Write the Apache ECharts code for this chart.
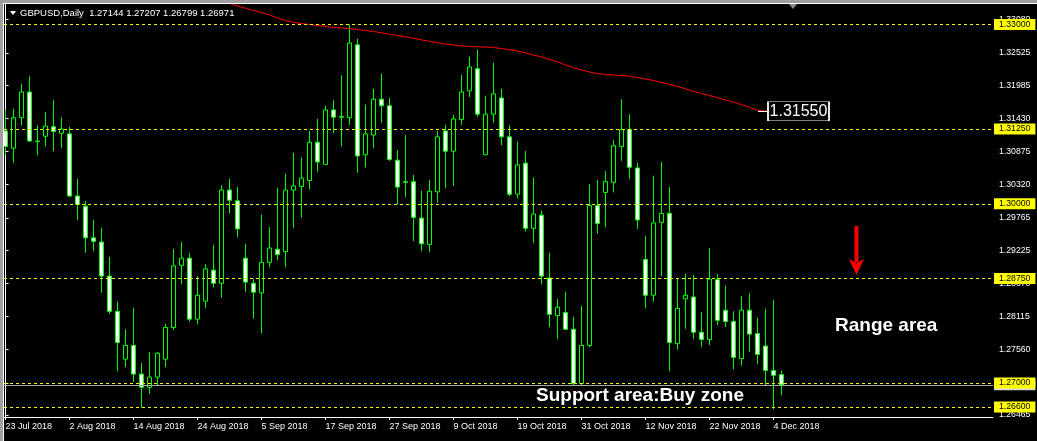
<!DOCTYPE html>
<html><head><meta charset="utf-8">
<script src="https://cdn.jsdelivr.net/npm/echarts@6/dist/echarts.min.js"></script>
<style>html,body{margin:0;padding:0;background:#000;overflow:hidden}#c{width:1037px;height:441px;}</style>
</head><body><div id="c"></div>
<script>
const dates = [
'2018-07-23','2018-07-24','2018-07-25','2018-07-26','2018-07-27','2018-07-30','2018-07-31',
'2018-08-01','2018-08-02','2018-08-03','2018-08-06','2018-08-07','2018-08-08','2018-08-09','2018-08-10',
'2018-08-13','2018-08-14','2018-08-15','2018-08-16','2018-08-17','2018-08-20','2018-08-21','2018-08-22',
'2018-08-23','2018-08-24','2018-08-27','2018-08-28','2018-08-29','2018-08-30','2018-08-31',
'2018-09-03','2018-09-04','2018-09-05','2018-09-06','2018-09-07','2018-09-10','2018-09-11','2018-09-12',
'2018-09-13','2018-09-14','2018-09-17','2018-09-18','2018-09-19','2018-09-20','2018-09-21','2018-09-24',
'2018-09-25','2018-09-26','2018-09-27','2018-09-28',
'2018-10-01','2018-10-02','2018-10-03','2018-10-04','2018-10-05','2018-10-08','2018-10-09','2018-10-10',
'2018-10-11','2018-10-12','2018-10-15','2018-10-16','2018-10-17','2018-10-18','2018-10-19','2018-10-22',
'2018-10-23','2018-10-24','2018-10-25','2018-10-26','2018-10-29','2018-10-30','2018-10-31',
'2018-11-01','2018-11-02','2018-11-05','2018-11-06','2018-11-07','2018-11-08','2018-11-09','2018-11-12',
'2018-11-13','2018-11-14','2018-11-15','2018-11-16','2018-11-19','2018-11-20','2018-11-21','2018-11-22',
'2018-11-23','2018-11-26','2018-11-27','2018-11-28','2018-11-29','2018-11-30',
'2018-12-03','2018-12-04','2018-12-05'];

const open = [1.3122,1.3093,1.3144,1.3187,1.3105,1.3113,1.3129,1.3118,1.3117,1.3013,
1.2996,1.2943,1.2936,1.2879,1.2820,1.2740,1.2763,1.2715,1.2693,1.2710,
1.2740,1.2793,1.2897,1.2909,1.2807,1.2837,1.2889,1.2867,1.3023,1.3005,
1.2909,1.2867,1.2851,1.2902,1.2924,1.2920,1.3023,1.3029,1.3039,1.3103,
1.3066,1.3157,1.3146,1.3144,1.3266,1.3082,1.3115,1.3175,1.3164,1.3073,
1.3037,1.3037,1.2976,1.2932,1.3020,1.3122,1.3088,1.3141,1.3189,1.3226,
1.3082,1.3150,1.3177,1.3112,1.3016,1.3068,1.2959,1.2981,1.2876,1.2813,
1.2818,1.2790,1.2699,1.2763,1.2997,1.3019,1.3036,1.3096,1.3124,1.3060,
1.2907,1.2847,1.2969,1.2984,1.2766,1.2841,1.2844,1.2785,1.2773,1.2873,
1.2822,1.2803,1.2741,1.2822,1.2783,1.2762,1.2721,1.27144];
const high = [1.3157,1.3159,1.3201,1.3213,1.3131,1.3153,1.3173,1.3144,1.3129,1.3042,
1.3005,1.2973,1.2960,1.2911,1.2836,1.2790,1.2826,1.2734,1.2752,1.2752,
1.2799,1.2924,1.2936,1.2917,1.2879,1.2899,1.2931,1.3031,1.3042,1.3028,
1.2933,1.2874,1.2982,1.2961,1.3027,1.3050,1.3085,1.3077,1.3122,1.3142,
1.3164,1.3173,1.3215,1.3300,1.3276,1.3166,1.3192,1.3218,1.3177,1.3090,
1.3115,1.3048,1.3022,1.3040,1.3122,1.3132,1.3149,1.3216,1.3246,1.3258,
1.3181,1.3236,1.3192,1.3131,1.3104,1.3088,1.3044,1.2989,1.2918,1.2841,
1.2853,1.2811,1.2829,1.3033,1.3040,1.3055,1.3106,1.3175,1.3150,1.3069,
1.2946,1.3047,1.3070,1.3028,1.2875,1.2883,1.2881,1.2819,1.2926,1.2882,
1.2863,1.2820,1.2846,1.2850,1.2809,1.2824,1.2839,1.27207];
const low = [1.3082,1.3069,1.3131,1.3104,1.3081,1.3096,1.3088,1.3094,1.3012,1.2973,
1.2918,1.2921,1.2851,1.2816,1.2720,1.2727,1.2702,1.2659,1.2682,1.2695,
1.2727,1.2789,1.2866,1.2803,1.2798,1.2826,1.2860,1.2843,1.2984,1.2944,
1.2853,1.2808,1.2783,1.2894,1.2906,1.2894,1.2960,1.2977,1.3024,1.3054,
1.3066,1.3118,1.3096,1.3132,1.3052,1.3061,1.3093,1.3136,1.3072,1.2999,
1.3011,1.2938,1.2921,1.2920,1.3002,1.3026,1.3030,1.3132,1.3179,1.3146,
1.3082,1.3136,1.3098,1.3013,1.3009,1.2954,1.2935,1.2865,1.2794,1.2774,
1.2789,1.2697,1.2697,1.2760,1.2950,1.2961,1.3019,1.3072,1.3042,1.2958,
1.2825,1.2836,1.2879,1.2720,1.2756,1.2791,1.2774,1.2761,1.2764,1.2797,
1.2794,1.2723,1.2729,1.2752,1.2732,1.2695,1.2656,1.26799];
const close = [1.3096,1.3144,1.3187,1.3105,1.3104,1.3130,1.3121,1.3125,1.3013,1.2999,
1.2943,1.2937,1.2879,1.2820,1.2768,1.2763,1.2715,1.2693,1.2710,1.2750,
1.2793,1.2896,1.2909,1.2807,1.2847,1.2891,1.2867,1.3023,1.3006,1.2958,
1.2869,1.2852,1.2902,1.2926,1.2915,1.3023,1.3030,1.3043,1.3103,1.3070,
1.3157,1.3145,1.3145,1.3269,1.3080,1.3117,1.3175,1.3164,1.3074,1.3028,
1.3036,1.2977,1.2933,1.3021,1.3112,1.3088,1.3142,1.3187,1.3229,1.3150,
1.3150,1.3184,1.3112,1.3016,1.3065,1.2959,1.2983,1.2879,1.2815,1.2827,
1.2790,1.2699,1.2763,1.2997,1.2967,1.3037,1.3097,1.3124,1.3061,1.2973,
1.2847,1.2968,1.2984,1.2768,1.2825,1.2847,1.2785,1.2773,1.2874,1.2805,
1.2803,1.2743,1.2822,1.2782,1.2748,1.2721,1.2713,1.26971];

const ma200 = [null,null,null,null,null,null,null,null,null,null,
null,null,null,null,null,null,null,null,null,null,
null,null,null,null,null,null,null,null,1.33351,1.33310,
1.33271,1.33234,1.33201,1.33162,1.33109,1.33067,1.33037,1.33015,1.33000,1.32983,
1.32967,1.32950,1.32941,1.32928,1.32916,1.32900,1.32883,1.32861,1.32836,1.32816,
1.32796,1.32769,1.32744,1.32719,1.32694,1.32674,1.32657,1.32644,1.32632,1.32627,
1.32624,1.32615,1.32598,1.32577,1.32557,1.32526,1.32490,1.32456,1.32414,1.32373,
1.32322,1.32276,1.32239,1.32205,1.32180,1.32163,1.32155,1.32143,1.32135,1.32113,
1.32088,1.32063,1.32030,1.31996,1.31963,1.31924,1.31879,1.31845,1.31812,1.31775,
1.31737,1.31703,1.31658,1.31615,1.31565,1.31553,1.31550,1.31548];

const priceTicks = [1.33080,1.32525,1.31985,1.31430,1.30875,1.30320,1.29765,1.29225,1.28670,1.28115,1.27560,1.27005,1.26465];
const levels = [1.33000,1.31250,1.30000,1.28750,1.27000,1.26600];
const bid = 1.26971;
const maLabel = 1.31550;
const dateTickIdx = [0,8,16,24,32,40,48,56,64,72,80,88,96];
const titleText = 'GBPUSD,Daily  1.27144 1.27207 1.26799 1.26971';
const months = ['Jan','Feb','Mar','Apr','May','Jun','Jul','Aug','Sep','Oct','Nov','Dec'];

function fmtDate(s){ const p=s.split('-'); return (+p[2])+' '+months[+p[1]-1]+' '+p[0]; }

const FONT = '"Liberation Sans", Arial, sans-serif';
const candleData = dates.map((d,i)=>[i, open[i], close[i], low[i], high[i]]);
const maData = ma200.map((v,i)=>[i, v]);

const chart = echarts.init(document.getElementById('c'), null, {renderer:'canvas'});
const yBase = {type:'value', min:1.264326, max:1.333430, position:'right', gridIndex:0,
  splitLine:{show:false}, axisLine:{show:false}, axisTick:{show:false}};
chart.setOption({
  animation:false,
  backgroundColor:'#000000',
  grid:{left:4, right:44, top:4, bottom:24, show:false, containLabel:false, outerBoundsMode:'none'},
  xAxis:{type:'value', min:-0.1875, max:123.4375,
    splitLine:{show:false},
    axisLine:{show:true, lineStyle:{color:'#ffffff', width:1}},
    axisTick:{show:true, length:3, lineStyle:{color:'#ffffff'}, customValues:dateTickIdx},
    axisLabel:{show:true, customValues:dateTickIdx, color:'#ffffff', fontSize:9, fontFamily:FONT,
      align:'left', margin:5, formatter:(v)=>fmtDate(dates[Math.round(v)])}
  },
  yAxis:[
    Object.assign({}, yBase, {
      axisLine:{show:true, lineStyle:{color:'#ffffff', width:1}},
      axisTick:{show:true, length:3, lineStyle:{color:'#ffffff'}, customValues:priceTicks},
      axisLabel:{show:true, customValues:priceTicks, color:'#ffffff', fontSize:8.7, fontFamily:FONT,
        margin:6, formatter:(v)=>v.toFixed(5)}
    }),
    Object.assign({}, yBase, {
      axisLabel:{show:true, customValues:[bid], color:'#000000', backgroundColor:'#d8d8d8',
        fontSize:8.7, fontFamily:FONT, margin:1, padding:[1,5,1,5], formatter:(v)=>v.toFixed(5)}
    }),
    Object.assign({}, yBase, {
      axisLabel:{show:true, customValues:levels, color:'#000000', backgroundColor:'#ffff00',
        fontSize:8.7, fontFamily:FONT, margin:1, padding:[1,5,1,5], formatter:(v)=>v.toFixed(5)}
    })
  ],
  series:[
    {
      type:'candlestick', xAxisIndex:0, yAxisIndex:0,
      data:candleData, encode:{x:0, y:[1,2,3,4]},
      barWidth:5,
      itemStyle:{color:'#000000', color0:'#ffffff', borderColor:'#00ff00', borderColor0:'#00ff00',
        borderColorDoji:'#00ff00', borderWidth:1},
      markLine:{
        silent:true, symbol:['none','none'], animation:false, precision:5,
        label:{show:false},
        data:[
          ...levels.map(v=>({yAxis:v, lineStyle:{color:'#ffff00', type:[3,3], width:1}})),
          {yAxis:bid, lineStyle:{color:'#a8a8a8', type:'solid', width:1}}
        ]
      }
    },
    {
      type:'line', xAxisIndex:0, yAxisIndex:0, data:maData, showSymbol:false, clip:true,
      connectNulls:false, lineStyle:{color:'#ff0000', width:1}, z:3,
      markLine:{silent:true, symbol:['none','none'], label:{show:false}, precision:5,
        data:[[{coord:[94.06, maLabel]},{coord:[95.4, maLabel]}]],
        lineStyle:{color:'#ffffff', type:'solid', width:1}},
      markPoint:{silent:true, precision:5, data:[{coord:[99.125, maLabel], symbol:'rect', symbolSize:[61,19],
        itemStyle:{color:'#000000', borderColor:'#ffffff', borderWidth:1},
        label:{show:true, formatter:maLabel.toFixed(5), color:'#ffffff', fontSize:16, fontFamily:FONT, position:'inside'}}]}
    }
  ],
  graphic:[
    {type:'rect', shape:{x:0,y:0,width:1037,height:3}, style:{fill:'#a0a0a0'}, z:100},
    {type:'rect', shape:{x:0,y:0,width:3,height:441}, style:{fill:'#a0a0a0'}, z:100},
    {type:'rect', shape:{x:3,y:3,width:1034,height:1}, style:{fill:'#ffffff'}, z:100},
    {type:'rect', shape:{x:3,y:3,width:1,height:438}, style:{fill:'#ffffff'}, z:100},
    {type:'polygon', shape:{points:[[10,11],[16,11],[13,15]]}, style:{fill:'#ffffff'}, z:100},
    {type:'text', x:20, y:13, style:{text:titleText, fill:'#ffffff', font:'9.5px '+FONT, textVerticalAlign:'middle'}, z:100},
    {type:'polygon', shape:{points:[[789,4],[797,4],[793,9]]}, style:{fill:'#8c8c8c'}, z:100},
    {type:'text', x:536, y:396, style:{text:'Support area:Buy zone', fill:'#ffffff', font:'bold 19px '+FONT, textVerticalAlign:'middle'}, z:100},
    {type:'text', x:835, y:326, style:{text:'Range area', fill:'#ffffff', font:'bold 19px '+FONT, textVerticalAlign:'middle'}, z:100},
    {type:'rect', shape:{x:854.5,y:226,width:4,height:36}, style:{fill:'#ff0000'}, z:100},
    {type:'polygon', shape:{points:[[849,259],[856.5,263],[864,259],[856.5,275]]}, style:{fill:'#ff0000'}, z:100}
  ]
});
</script></body></html>
